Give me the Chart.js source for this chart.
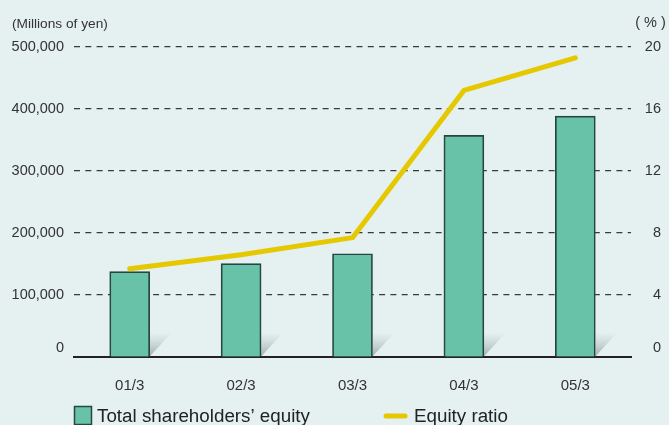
<!DOCTYPE html>
<html lang="en">
<head>
<meta charset="UTF-8">
<title>Total shareholders' equity and equity ratio</title>
<script src="https://cdn.jsdelivr.net/npm/chart.js"></script>
<style>
  html, body { margin: 0; padding: 0; background: #e5f1f1; }
  #wrap { width: 669px; height: 425px; }
</style>
</head>
<body>
<div id="wrap"><canvas id="myChart" width="669" height="425"></canvas></div>

<script>
// data
const years = ['01/3', '02/3', '03/3', '04/3', '05/3'];
const equity = [137600, 150500, 166600, 357600, 388700];      // millions of yen
const equityRatio = [5.7, 6.6, 7.7, 17.2, 19.3];               // %
const yenMax = 500000, yenStep = 100000;
const pctMax = 20, pctStep = 4;

const FONT = "'Liberation Sans', Arial, Helvetica, sans-serif";
const barColor = '#68c2a8';
const barEdge = '#27463f';
const lineColor = '#e5c800';

// little folded shadow at the foot of each bar
const barShadow = {
    id: 'barShadow',
    beforeDatasetsDraw(chart) {
        const ctx = chart.ctx;
        const meta = chart.getDatasetMeta(0);
        meta.data.forEach(bar => {
            const r = bar.x + bar.width / 2;
            const b = bar.base;
            const g = ctx.createLinearGradient(0, b - 24, 0, b);
            g.addColorStop(0, 'rgba(150,165,165,0)');
            g.addColorStop(1, 'rgba(110,120,120,0.55)');
            ctx.save();
            ctx.fillStyle = g;
            ctx.beginPath();
            ctx.moveTo(r, b - 24);
            ctx.lineTo(r + 22, b - 24);
            ctx.lineTo(r, b);
            ctx.closePath();
            ctx.fill();
            ctx.restore();
        });
    }
};

// unit labels and the legend row
const extras = {
    id: 'extras',
    afterDraw(chart) {
        const ctx = chart.ctx;
        const ds = chart.data.datasets;
        ctx.save();
        ctx.fillStyle = '#333';
        ctx.textBaseline = 'alphabetic';
        ctx.font = '13.7px ' + FONT;
        ctx.textAlign = 'left';
        ctx.fillText('(Millions of yen)', 12, 28);
        ctx.font = '14.5px ' + FONT;
        ctx.textAlign = 'center';
        ctx.fillText('( % )', 650.5, 27);

        // legend
        ctx.fillStyle = barColor;
        ctx.fillRect(74.5, 406.5, 17, 18);
        ctx.strokeStyle = barEdge;
        ctx.lineWidth = 1.5;
        ctx.strokeRect(74.5, 406.5, 17, 18);

        ctx.strokeStyle = lineColor;
        ctx.lineWidth = 5;
        ctx.lineCap = 'round';
        ctx.beginPath();
        ctx.moveTo(386, 416);
        ctx.lineTo(405, 416);
        ctx.stroke();

        ctx.fillStyle = '#222';
        ctx.font = '18.8px ' + FONT;
        ctx.textAlign = 'left';
        ctx.fillText(ds[0].label, 97, 422);
        ctx.fillText(ds[1].label, 414, 422);
        ctx.restore();
    }
};

new Chart(document.getElementById('myChart'), {
    type: 'bar',
    data: {
        labels: years,
        datasets: [
            {
                type: 'bar',
                label: 'Total shareholders\u2019 equity',
                data: equity,
                yAxisID: 'y',
                backgroundColor: barColor,
                borderColor: barEdge,
                borderWidth: 1.7,
                barThickness: 40,
                order: 2
            },
            {
                type: 'line',
                label: 'Equity ratio',
                data: equityRatio,
                yAxisID: 'y1',
                borderColor: lineColor,
                borderWidth: 5,
                borderCapStyle: 'round',
                borderJoinStyle: 'round',
                pointRadius: 0,
                tension: 0,
                order: 1
            }
        ]
    },
    options: {
        responsive: false,
        devicePixelRatio: 1,
        animation: false,
        layout: { padding: { top: 47, right: 8, bottom: 0, left: 0 } },
        plugins: {
            legend: { display: false },
            tooltip: { enabled: false }
        },
        scales: {
            x: {
                grid: { display: false },
                border: { display: true, color: '#222', width: 2 },
                ticks: { color: '#333', padding: 12, font: { family: FONT, size: 15 } },
                afterFit(s) { s.height = 68; }
            },
            y: {
                position: 'left',
                min: 0,
                max: yenMax,
                grid: {
                    drawTicks: false,
                    lineWidth: 1.2,
                    color: c => c.tick && c.tick.value === 0 ? 'rgba(0,0,0,0)' : '#3a3a3a'
                },
                border: { display: false, dash: [6, 5.3] },
                ticks: {
                    stepSize: yenStep,
                    padding: 10,
                    color: '#333',
                    font: { family: FONT, size: 14.5 },
                    callback: v => v === 0 ? ['0', ''] : v.toLocaleString('en-US')
                },
                afterFit(s) { s.width = 74; }
            },
            y1: {
                position: 'right',
                min: 0,
                max: pctMax,
                grid: { display: false, drawTicks: false },
                border: { display: false },
                ticks: {
                    stepSize: pctStep,
                    padding: 10,
                    crossAlign: 'far',
                    color: '#333',
                    font: { family: FONT, size: 14.5 },
                    callback: v => v === 0 ? ['0', ''] : String(v)
                },
                afterFit(s) { s.width = 30; }
            }
        }
    },
    plugins: [barShadow, extras]
});
</script>
</body>
</html>
